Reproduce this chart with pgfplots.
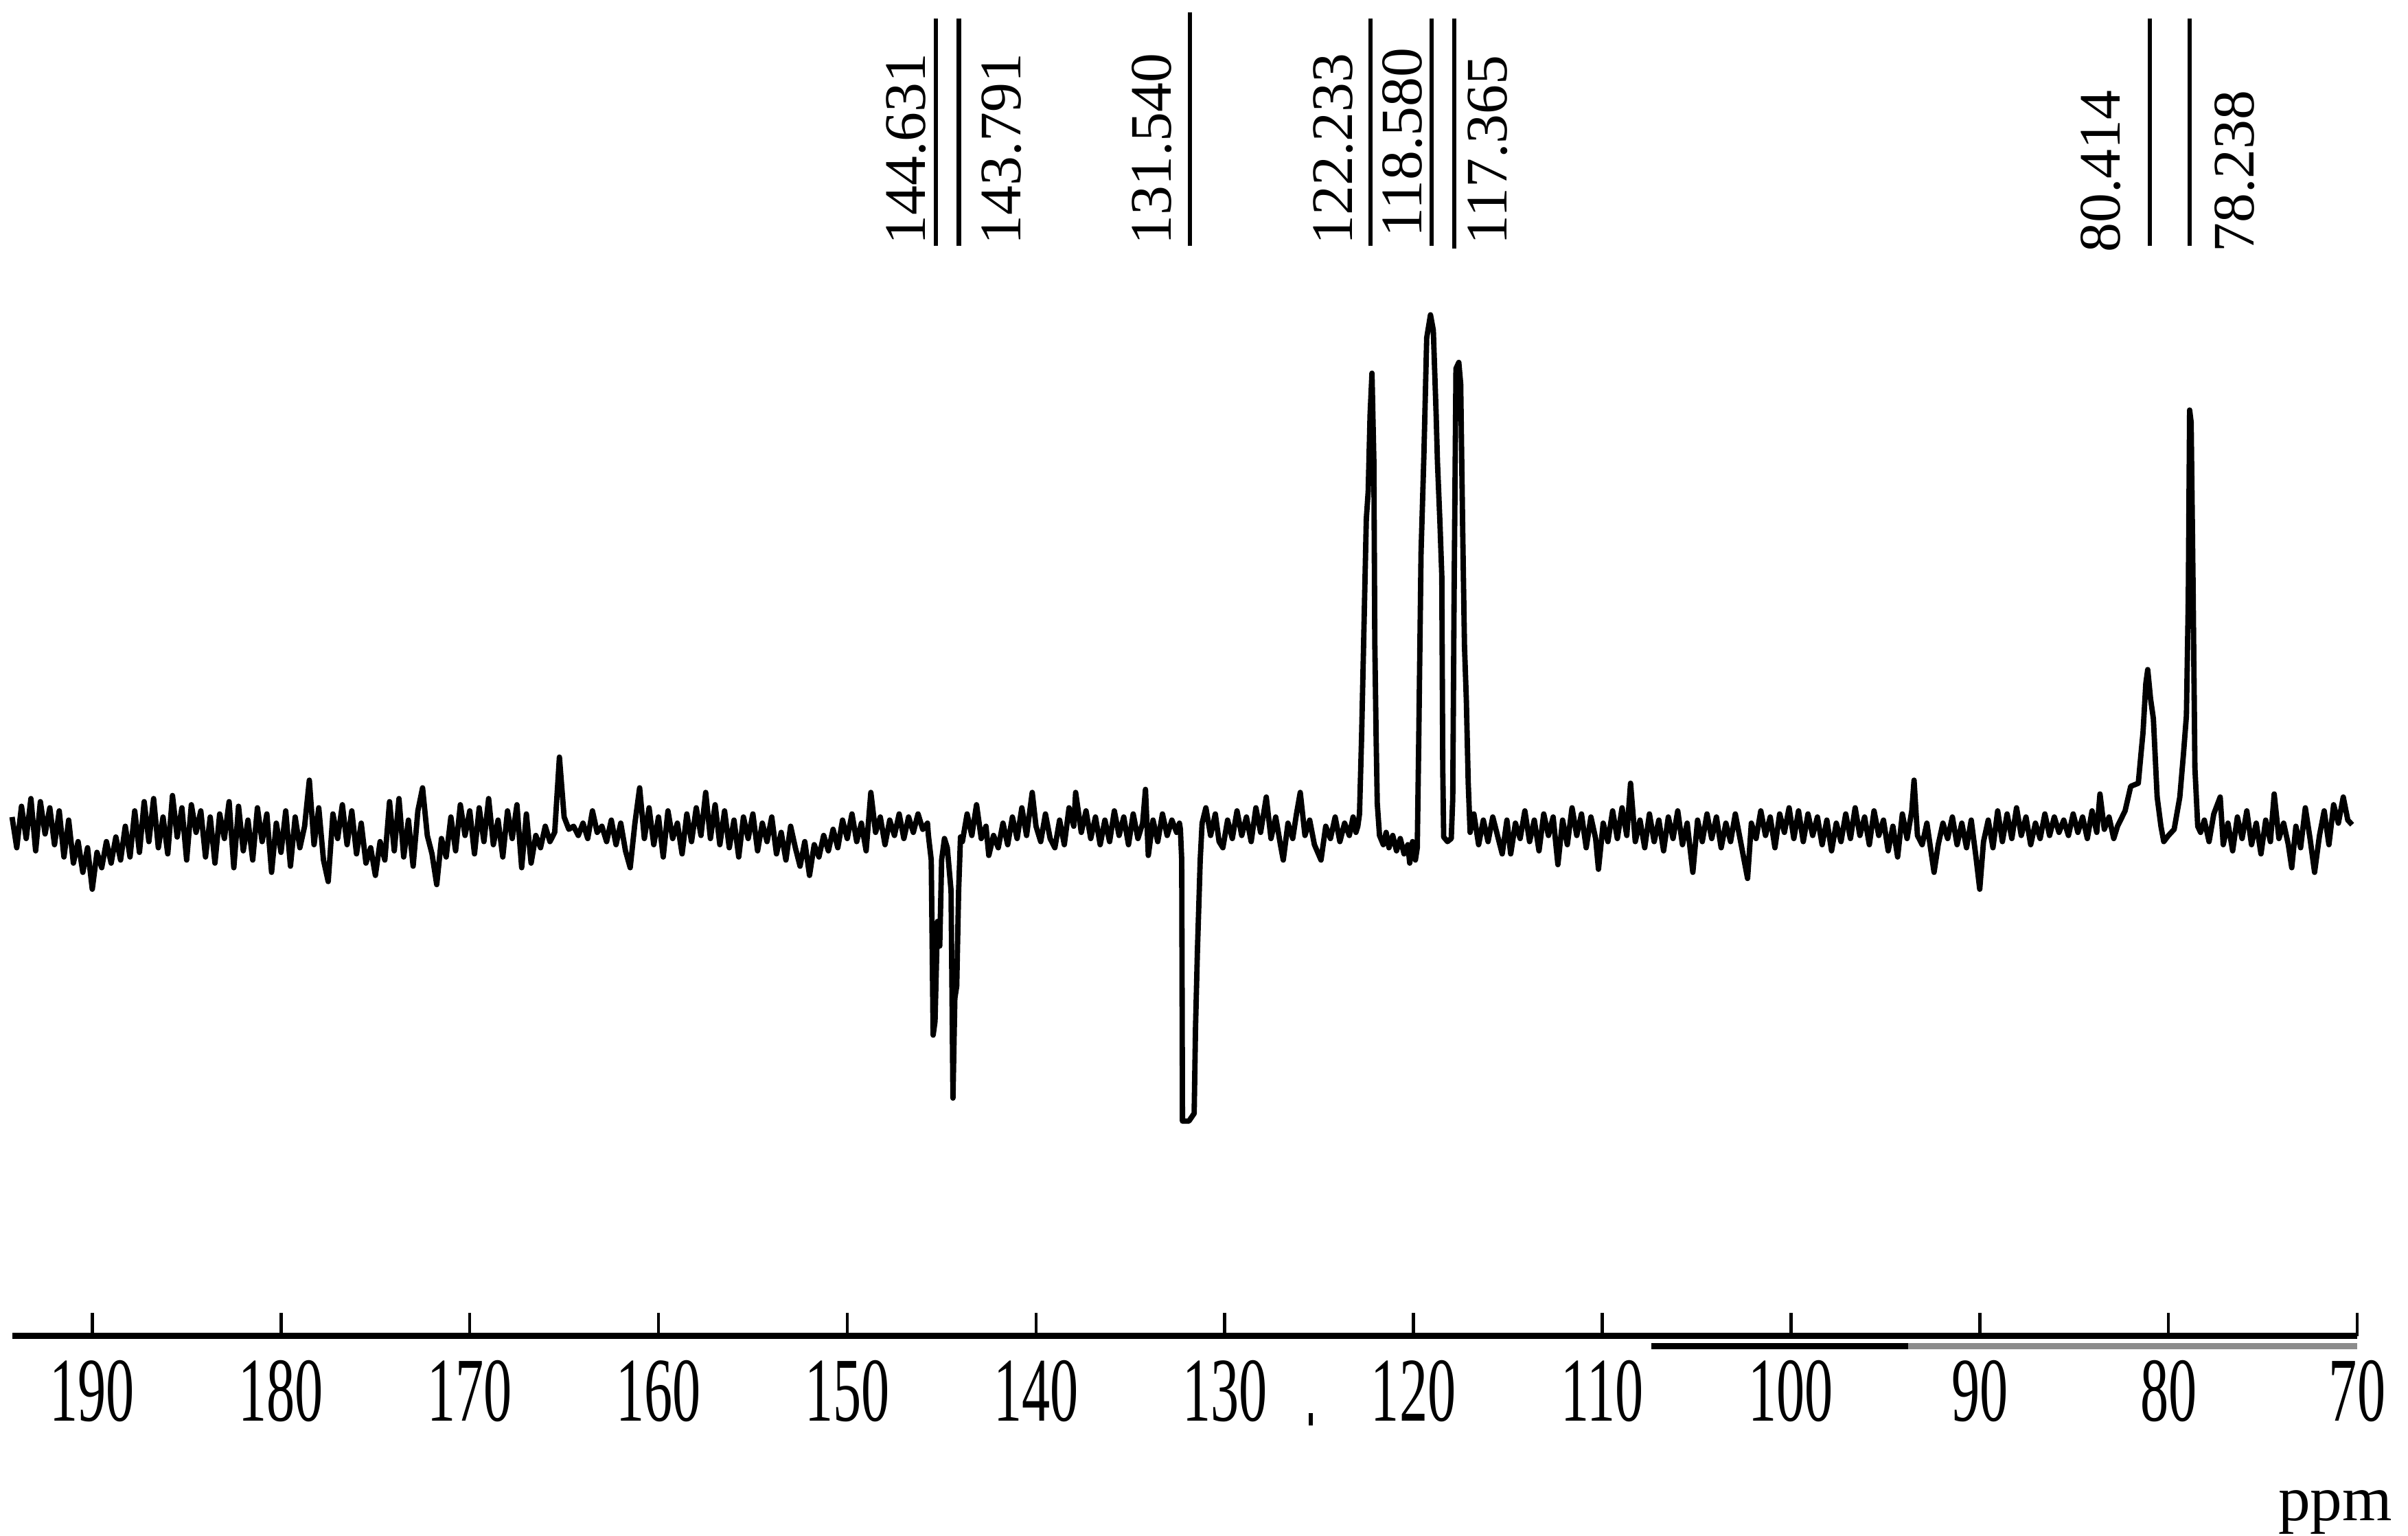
\documentclass[border=0pt]{standalone}
\usepackage{pgfplots}
\pgfplotsset{compat=1.18}
\usepackage{fontspec}
\setmainfont{Liberation Serif}
\newcommand\sx[1]{\scalebox{0.62}[1]{#1}}
\newcommand\pk[1]{\fontsize{11.5}{12}\selectfont #1}
\begin{document}
\begin{tikzpicture}
\begin{axis}[
    scale only axis,
    width=458.1pt, height=261pt,
    xmin=70, xmax=194.25,
    ymin=-330, ymax=540,
    x dir=reverse,
    axis x line=bottom, axis y line=none,
    x axis line style={-, line width=1.2pt},
    xtick={70,80,90,100,110,120,130,140,150,160,170,180,190},
    xticklabels={\sx{70},\sx{80},\sx{90},\sx{100},\sx{110},\sx{120},\sx{130},\sx{140},\sx{150},\sx{160},\sx{170},\sx{180},\sx{190}},
    tick align=inside,
    major tick length=4.5pt,
    tick style={line width=0.6pt, black},
    xticklabel style={anchor=north, inner sep=0pt, yshift=-4.5pt, font=\fontsize{17.8}{18}\selectfont},
    no markers,
    clip=false,
]

% spectrum trace (ppm, intensity)
\addplot[black, line width=1.05pt, line join=round] coordinates {
(194.25,8)(194,-12)(193.75,15)(193.5,-6)(193.25,20)(193,-14)(192.75,18)(192.5,-3)(192.25,14)(192,-10)
(191.75,12)(191.5,-18)(191.25,6)(191,-22)(190.75,-8)(190.5,-28)(190.25,-12)(190,-39)(189.75,-15)(189.5,-25)
(189.25,-8)(189,-22)(188.75,-5)(188.5,-20)(188.25,2)(188,-18)(187.75,12)(187.5,-15)(187.25,18)(187,-8)
(186.75,20)(186.5,-12)(186.25,8)(186,-16)(185.75,22)(185.5,-5)(185.25,14)(185,-20)(184.75,16)(184.5,-2)
(184.25,12)(184,-18)(183.75,8)(183.5,-22)(183.25,10)(183,-6)(182.75,18)(182.5,-25)(182.25,15)(182,-14)
(181.75,6)(181.5,-20)(181.25,14)(181,-8)(180.75,10)(180.5,-28)(180.25,4)(180,-15)(179.75,12)(179.5,-24)
(179.25,8)(179,-12)(178.75,2)(178.5,32)(178.25,-10)(178,14)(177.75,-20)(177.5,-34)(177.25,10)(177,-6)
(176.75,16)(176.5,-10)(176.25,12)(176,-16)(175.75,4)(175.5,-22)(175.25,-12)(175,-30)(174.75,-8)(174.5,-20)
(174.25,18)(174,-14)(173.75,20)(173.5,-18)(173.25,6)(173,-24)(172.75,12)(172.5,27)(172.25,-4)(172,-16)
(171.75,-36)(171.5,-6)(171.25,-18)(171,8)(170.75,-14)(170.5,16)(170.25,-4)(170,12)(169.75,-16)(169.5,14)
(169.25,-8)(169,20)(168.75,-10)(168.5,6)(168.25,-18)(168,12)(167.75,-6)(167.5,16)(167.25,-25)(167,10)
(166.75,-22)(166.5,-4)(166.25,-12)(166,2)(165.75,-8)(165.5,-2)(165.25,47)(165,8)(164.75,0)(164.5,2)
(164.25,-4)(164,4)(163.75,-6)(163.5,12)(163.25,-2)(163,2)(162.75,-8)(162.5,6)(162.25,-10)(162,4)
(161.75,-14)(161.5,-25)(161.25,4)(161,27)(160.75,-6)(160.5,14)(160.25,-10)(160,8)(159.75,-18)(159.5,12)
(159.25,-6)(159,4)(158.75,-16)(158.5,10)(158.25,-8)(158,14)(157.75,-4)(157.5,24)(157.25,-6)(157,16)
(156.75,-10)(156.5,12)(156.25,-12)(156,6)(155.75,-18)(155.5,8)(155.25,-6)(155,10)(154.75,-14)(154.5,4)
(154.25,-8)(154,8)(153.75,-16)(153.5,-2)(153.25,-20)(153,2)(152.75,-12)(152.5,-24)(152.25,-8)(152,-30)
(151.75,-10)(151.5,-18)(151.25,-4)(151,-14)(150.75,0)(150.5,-12)(150.25,6)(150,-6)(149.75,10)(149.5,-8)
(149.25,4)(149,-14)(148.75,24)(148.5,-2)(148.25,8)(148,-10)(147.75,6)(147.5,-4)(147.25,10)(147,-6)
(146.75,8)(146.5,-2)(146.25,10)(146,0)(145.75,4)
(145.7,-4)(145.55,-20)(145.45,-134)(145.35,-125)(145.22,-60)(145.1,-76)(145.0,-20)(144.85,-6)
(144.7,-12)(144.5,-40)(144.4,-175)(144.3,-110)(144.2,-102)(144.1,-40)(144.0,-5)
(143.9,-8)(143.65,10)(143.4,-4)(143.15,16)(142.9,-6)(142.65,2)(142.5,-17)(142.25,-4)(142,-12)(141.75,4)
(141.5,-10)(141.25,8)(141,-6)(140.75,14)(140.5,-4)(140.2,24)(140,2)(139.75,-8)(139.5,10)(139.25,-6)
(139,-12)(138.75,6)(138.5,-10)(138.25,14)(138,2)(137.9,24)(137.6,-2)(137.35,12)(137.1,-6)(136.85,8)
(136.6,-10)(136.35,6)(136.1,-8)(135.85,12)(135.6,-4)(135.35,8)(135.1,-10)(134.85,10)(134.6,-6)(134.35,4)
(134.2,26)(134.05,-17)(133.8,6)(133.55,-8)(133.3,10)(133.05,-4)(132.8,6)(132.55,-2)(132.4,4)
(132.35,0)(132.28,-20)(132.24,-190)(131.9,-190)(131.62,-185)(131.55,-130)(131.45,-80)(131.3,-20)(131.2,4)
(131.0,14)(130.75,-4)(130.5,10)(130.3,-8)(130.1,-12)(129.85,6)(129.6,-6)(129.35,12)(129.1,-4)(128.85,8)
(128.6,-8)(128.35,14)(128.1,-2)(127.8,21)(127.55,-6)(127.3,8)(127.05,-10)(126.9,-20)(126.65,4)(126.4,-6)
(126.2,10)(126.0,24)(125.75,-4)(125.5,6)(125.25,-10)(124.9,-20)(124.65,2)(124.4,-6)(124.15,8)(123.9,-8)
(123.65,4)(123.4,-4)(123.2,8)(123.05,-2)
(122.95,2)(122.86,10)(122.75,60)(122.63,128)(122.5,202)(122.4,220)(122.3,270)(122.2,297)(122.1,240)
(122.05,122)(121.98,60)(121.92,17)(121.8,-4)(121.6,-10)
(121.45,-2)(121.3,-12)(121.1,-4)(120.9,-14)(120.7,-6)(120.5,-16)(120.3,-10)(120.2,-22)(120.05,-8)(119.9,-20)
(119.8,-12)(119.72,60)(119.6,180)(119.45,243)(119.3,320)(119.1,335)(118.95,325)(118.8,270)(118.73,239)
(118.6,200)(118.5,165)(118.45,40)(118.4,-5)(118.2,-8)(118.0,-6)(117.92,20)(117.85,150)(117.75,300)
(117.6,304)(117.5,290)(117.4,200)(117.3,120)(117.2,84)(117.1,30)(117.0,-2)
(116.8,10)(116.55,-10)(116.3,6)(116.05,-8)(115.8,8)(115.55,-4)(115.3,-16)(115.05,6)(114.85,-16)(114.6,4)
(114.35,-6)(114.1,12)(113.85,-8)(113.6,6)(113.35,-14)(113.1,10)(112.85,-4)(112.6,8)(112.35,-23)(112.1,6)
(111.85,-10)(111.6,14)(111.35,-4)(111.1,10)(110.85,-12)(110.6,8)(110.35,-6)(110.2,-26)(109.95,4)(109.7,-8)
(109.45,12)(109.2,-6)(108.95,14)(108.7,-4)(108.5,30)(108.25,-8)(108.0,6)(107.75,-12)(107.5,10)(107.25,-8)
(107.0,6)(106.75,-14)(106.5,8)(106.25,-6)(106.0,12)(105.75,-10)(105.5,4)(105.2,-28)(104.95,6)(104.7,-8)
(104.45,10)(104.2,-6)(103.95,8)(103.7,-12)(103.45,4)(103.2,-8)(102.95,10)(102.7,-6)(102.3,-32)(102.1,4)
(101.85,-6)(101.6,12)(101.35,-4)(101.1,8)(100.85,-12)(100.6,10)(100.35,-2)(100.1,14)(99.85,-6)(99.6,12)
(99.35,-8)(99.1,10)(98.85,-4)(98.6,8)(98.35,-10)(98.1,6)(97.85,-14)(97.6,4)(97.35,-8)(97.1,10)
(96.85,-6)(96.6,14)(96.35,-4)(96.1,8)(95.85,-10)(95.6,12)(95.35,-4)(95.1,6)(94.85,-14)(94.6,2)
(94.35,-18)(94.1,10)(93.85,-6)(93.6,12)(93.48,32)(93.3,-4)(93.05,-10)(92.8,4)(92.42,-28)(92.2,-10)
(91.95,4)(91.7,-6)(91.45,8)(91.2,-10)(90.95,4)(90.7,-12)(90.45,6)(90.2,-18)(90.0,-39)(89.8,-8)
(89.55,6)(89.3,-12)(89.05,12)(88.8,-8)(88.55,10)(88.3,-6)(88.05,14)(87.8,-4)(87.55,8)(87.3,-10)
(87.05,4)(86.8,-6)(86.55,10)(86.3,-4)(86.05,8)(85.8,-2)(85.55,6)(85.3,-4)(85.05,10)(84.8,-2)
(84.55,8)(84.3,-6)(84.05,12)(83.8,-2)(83.63,23)(83.4,0)(83.15,8)(82.9,-6)
(82.7,2)(82.3,12)(82.0,28)(81.6,30)(81.45,50)(81.35,63)(81.2,95)(81.1,104)(80.95,85)(80.8,72)
(80.6,21)(80.4,2)(80.25,-8)(80.0,-4)(79.7,0)(79.4,21)(79.2,50)(79.05,74)(78.95,150)(78.88,273)
(78.8,265)(78.7,161)(78.6,40)(78.45,2)(78.3,-2)
(78.1,6)(77.85,-8)(77.6,10)(77.26,21)(77.1,-10)(76.85,4)(76.6,-14)(76.35,8)(76.1,-6)(75.85,12)
(75.6,-10)(75.35,4)(75.1,-16)(74.85,6)(74.6,-8)(74.4,23)(74.15,-6)(73.9,4)(73.65,-10)(73.47,-25)
(73.25,2)(73.0,-12)(72.75,14)(72.5,-6)(72.26,-28)(72.0,-4)(71.75,12)(71.5,-10)(71.25,16)(71.0,4)
(70.74,21)(70.5,6)(70.27,3)
};

% peak marker lines
\draw[line width=0.8pt] (axis cs:145.31,528) -- (axis cs:145.31,380);
\draw[line width=0.9pt] (axis cs:144.09,528) -- (axis cs:144.09,380);
\draw[line width=0.9pt] (axis cs:131.84,532) -- (axis cs:131.84,380);
\draw[line width=0.8pt] (axis cs:122.28,528) -- (axis cs:122.28,380);
\draw[line width=0.9pt] (axis cs:119.04,528) -- (axis cs:119.04,380);
\draw[line width=0.8pt] (axis cs:117.85,528) -- (axis cs:117.85,378);
\draw[line width=0.8pt] (axis cs:80.99,528) -- (axis cs:80.99,380);
\draw[line width=0.8pt] (axis cs:78.88,528) -- (axis cs:78.88,380);

% peak labels
\node[rotate=90, anchor=west, inner sep=0pt] at (axis cs:146.88,380) {\pk{144.631}};
\node[rotate=90, anchor=west, inner sep=0pt] at (axis cs:141.84,380) {\pk{143.791}};
\node[rotate=90, anchor=west, inner sep=0pt] at (axis cs:133.86,380) {\pk{131.540}};
\node[rotate=90, anchor=west, inner sep=0pt] at (axis cs:124.26,380) {\pk{122.233}};
\node[rotate=90, anchor=west, inner sep=0pt] at (axis cs:120.60,385) {\pk{118.580}};
\node[rotate=90, anchor=west, inner sep=0pt] at (axis cs:116.05,380) {\pk{117.365}};
\node[rotate=90, anchor=west, inner sep=0pt] at (axis cs:83.58,375) {\pk{80.414}};
\node[rotate=90, anchor=west, inner sep=0pt] at (axis cs:76.50,375) {\pk{78.238}};

% scan artefacts under the axis
\draw[line width=1.2pt, black] ([yshift=-2pt]axis cs:107.4,-330) -- ([yshift=-2pt]axis cs:93.8,-330);
\draw[line width=1.2pt, black!45] ([yshift=-2pt]axis cs:93.8,-330) -- ([yshift=-2pt]axis cs:70,-330);
\fill (axis cs:125.56,-380) rectangle ++(0.8pt,-2.5pt);

% unit label
\node[anchor=north east, inner sep=0pt, font=\fontsize{12.5}{13}\selectfont] at ([xshift=7pt,yshift=-30pt]axis cs:70,-330) {ppm};

% page extent
\path (axis cs:194.89,540) rectangle (axis cs:67.31,-460);
\end{axis}
\end{tikzpicture}
\end{document}
